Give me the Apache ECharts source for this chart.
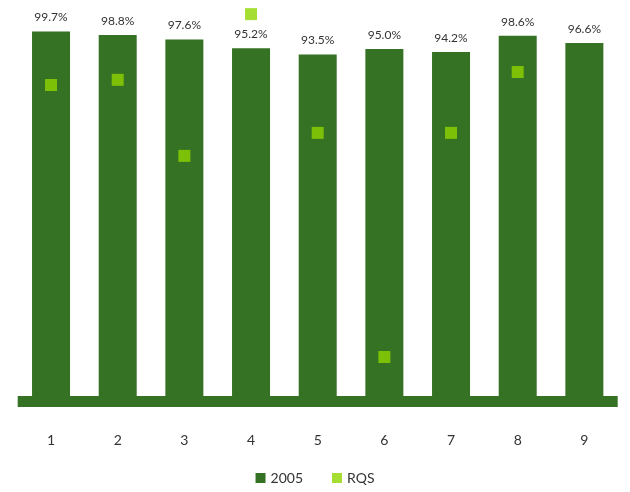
<!DOCTYPE html>
<html>
<head>
<meta charset="utf-8">
<script src="https://cdn.jsdelivr.net/npm/echarts@6/dist/echarts.min.js"></script>
<style>html,body{margin:0;padding:0;background:#fff;}#c{width:630px;height:492px;}</style>
</head>
<body>
<div id="c"></div>
<script>
var categories = ['1','2','3','4','5','6','7','8','9'];
var values2005 = [99.7, 98.8, 97.6, 95.2, 93.5, 95.0, 94.2, 98.6, 96.6];
var valuesRQS = [85.3, 86.7, 66.2, 104.4, 72.4, 12.0, 72.4, 88.8, null];

var chart = echarts.init(document.getElementById('c'));
chart.setOption({
  animation: false,
  textStyle: { fontFamily: 'Lato, "Noto Sans", sans-serif' },
  grid: { left: 17.7, right: 12.3, top: 0.8, bottom: 90.5 },
  legend: {
    bottom: 2, left: 'center',
    itemWidth: 10, itemHeight: 10, itemGap: 29,
    textStyle: { fontSize: 14, color: '#333' },
    data: [{ name: '2005', icon: 'rect' }, { name: 'RQS', icon: 'rect' }]
  },
  xAxis: {
    type: 'category', data: categories,
    offset: 6,
    axisLine: { lineStyle: { color: '#357224', width: 11, cap: 'butt' } },
    axisTick: { show: false },
    axisLabel: { fontSize: 14, color: '#333', margin: 26 }
  },
  yAxis: {
    type: 'value', min: 0, max: 108,
    show: false, splitLine: { show: false }
  },
  series: [
    {
      name: '2005', type: 'bar', data: values2005, barWidth: 38,
      itemStyle: { color: '#357224' },
      label: { show: true, position: 'top', distance: 8, fontSize: 12, color: '#333',
        formatter: function (p) { return p.value.toFixed(1) + '%'; } }
    },
    {
      name: 'RQS', type: 'scatter', data: valuesRQS, symbol: 'rect', symbolSize: 12,
      itemStyle: { color: '#8fd400' }, z: 5
    }
  ]
});
</script>
</body>
</html>
